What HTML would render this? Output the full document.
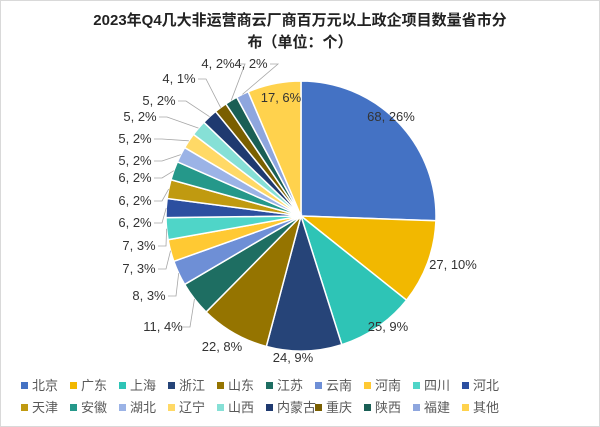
<!DOCTYPE html>
<html><head><meta charset="utf-8"><style>
body{margin:0;background:#fff}
#w{position:relative;width:598px;height:425px;border:1px solid #d9d9d9;background:#fff;font-family:"Liberation Sans","Noto Sans CJK SC",sans-serif}
.t{position:absolute;left:0;width:598px;text-align:center;font-weight:bold;font-size:15px;color:#222}
</style></head><body><div id="w">
<div class="t" style="top:8px">2023年Q4几大非运营商云厂商百万元以上政企项目数量省市分</div>
<div class="t" style="top:30px">布（单位：个）</div>
<svg id="s" width="598" height="425" style="position:absolute;left:0;top:0" font-family="Liberation Sans, Noto Sans CJK SC, sans-serif"></svg>
</div>
<script>
var d=[68,27,25,24,22,11,8,7,7,6,6,6,5,5,5,5,4,4,4,17];
var names=["北京","广东","上海","浙江","山东","江苏","云南","河南","四川","河北","天津","安徽","湖北","辽宁","山西","内蒙古","重庆","陕西","福建","其他"];
var c=["#4472C4","#F2B800","#2EC4B6","#264478","#957400","#1E6E62","#6E8FD6","#FFC933","#4FD5C8","#2C4FA0","#C09A10","#25988A","#9BB3E6","#FFD966","#86E0D6","#1F3A70","#7A5F00","#1A5F55","#8EA6DE","#FFD24D"];
var pct=["26%","10%","9%","9%","8%","4%","3%","3%","3%","2%","2%","2%","2%","2%","2%","2%","1%","2%","2%","6%"];
var lp=[[390,116],[452,264],[387,326],[292,357],[221,346],[162,326],[148,295],[138,268],[138,245],[134,222],[134,200],[134,177],[134,160],[134,138],[139,116],[158,100],[178,78],[217,63],[250,63],[280,97]];
var cx=300,cy=215,r=135,tot=266,a=-Math.PI/2,h="";
for(var i=0;i<d.length;i++){var a2=a+d[i]/tot*2*Math.PI;
var x1=cx+r*Math.cos(a),y1=cy+r*Math.sin(a),x2=cx+r*Math.cos(a2),y2=cy+r*Math.sin(a2);
h+='<path d="M'+cx+' '+cy+'L'+x1+' '+y1+'A'+r+' '+r+' 0 '+(a2-a>Math.PI?1:0)+' 1 '+x2+' '+y2+'Z" fill="'+c[i]+'" stroke="#fff" stroke-width="1.5"/>';
var m=(a+a2)/2,ex=cx+r*Math.cos(m),ey=cy+r*Math.sin(m);
if(i>=5&&i<=18){var tx=lp[i][0]+19,ty=lp[i][1];h+='<polyline points="'+(tx)+','+ty+' '+(tx+8)+','+ty+' '+ex+','+ey+'" fill="none" stroke="#a6a6a6" stroke-width="0.8"/>';}
h+='<text x="'+lp[i][0]+'" y="'+(lp[i][1]+4)+'" font-size="13" fill="#333" text-anchor="middle">'+d[i]+', '+pct[i]+'</text>';
a=a2;}
for(var i=0;i<20;i++){var row=i<10?0:1,col=i%10,x=20+col*49,y=381+row*22;
h+='<rect x="'+x+'" y="'+y+'" width="7" height="7" fill="'+c[i]+'"/><text x="'+(x+11)+'" y="'+(y+8)+'" font-size="13" fill="#595959">'+names[i]+'</text>';}
document.getElementById("s").innerHTML=h;
</script>
</body></html>
